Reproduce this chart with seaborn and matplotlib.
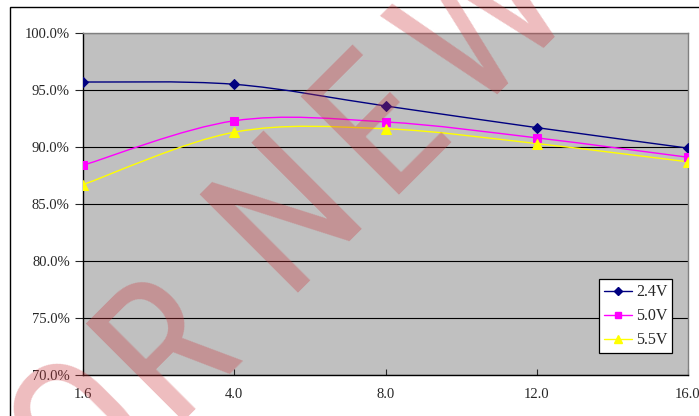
import numpy as np
import pandas as pd
import matplotlib
matplotlib.use("Agg")
import matplotlib.pyplot as plt
import seaborn as sns
from matplotlib.path import Path
from matplotlib.patches import PathPatch, Rectangle
from matplotlib.lines import Line2D

# --------------------------------------------------
# Data
# --------------------------------------------------

x_labels = ["1.6", "4.0", "8.0", "12.0", "16.0"]
eff_24 = [95.7, 95.5, 93.6, 91.7, 89.9]
eff_50 = [88.4, 92.3, 92.2, 90.8, 89.1]
eff_55 = [86.7, 91.3, 91.6, 90.3, 88.7]

series = ["2.4V", "5.0V", "5.5V"]
values = [eff_24, eff_50, eff_55]
colors = ["#000080", "#FF00FF", "#FFFF00"]
markers = ["D", "s", "^"]
msizes = [5, 6, 7]

pos = np.arange(len(x_labels))

# --------------------------------------------------
# Figure
# --------------------------------------------------

W, H = 699, 416

sns.set_style("white")
plt.rcParams["font.family"] = ["Liberation Serif", "DejaVu Serif"]

fig = plt.figure(figsize=(W / 100, H / 100), dpi=100)
ax = fig.add_axes([83 / W, 1 - 375 / H, 605 / W, 342 / H])
ax.set_facecolor("#C0C0C0")

# chart area border
fig.patches.append(Rectangle((10 / W, -0.2), 1.2, 1.2 - 7 / H,
                             transform=fig.transFigure, fill=False,
                             edgecolor="black", lw=1.0, zorder=0))


def smooth_path(xs, ys):
    # Excel-like smoothed line (cubic bezier through the points)
    pts = np.column_stack([xs, ys]).astype(float)
    n = len(pts)
    verts = [pts[0]]
    codes = [Path.MOVETO]
    for i in range(n - 1):
        p0 = pts[i - 1] if i > 0 else pts[i]
        p1 = pts[i]
        p2 = pts[i + 1]
        p3 = pts[i + 2] if i + 2 < n else pts[i + 1]
        c1 = p1 + (p2 - p0) / 6
        c2 = p2 - (p3 - p1) / 6
        verts += [c1, c2, p2]
        codes += [Path.CURVE4] * 3
    return Path(verts, codes)


for name, vals, col, mk, ms in zip(series, values, colors, markers, msizes):
    ax.add_patch(PathPatch(smooth_path(pos, vals), facecolor="none",
                           edgecolor=col, lw=1.0, zorder=3))
    sns.lineplot(x=pos, y=vals, ax=ax, color=col, marker=mk, markersize=ms,
                 markeredgecolor=col, linestyle="none", zorder=4, legend=False)

ax.set_xlim(0, 4)
ax.set_ylim(70, 100)
ax.set_yticks(np.arange(70, 101, 5))
ax.set_yticklabels([f"{v:.1f}%" for v in np.arange(70, 101, 5)])
ax.set_xticks(pos)
ax.set_xticklabels(x_labels)
ax.grid(axis="y", color="black", lw=0.8)
ax.set_axisbelow(True)
ax.set_xlabel("")
ax.set_ylabel("")

ax.tick_params(axis="y", direction="out", length=5.5, width=0.8, pad=4,
               labelsize=10.5, left=True)
ax.tick_params(axis="x", direction="in", length=4, width=0.8, pad=9,
               labelsize=10.5, bottom=True)

for side in ["left", "bottom"]:
    ax.spines[side].set_color("black")
    ax.spines[side].set_linewidth(1.0)
for side in ["top", "right"]:
    ax.spines[side].set_color("#808080")
    ax.spines[side].set_linewidth(1.0)

handles = [Line2D([], [], color=c, marker=m, markersize=s - 1,
                  markeredgecolor=c, lw=1.0)
           for c, m, s in zip(colors, markers, msizes)]
leg = ax.legend(handles, series, loc="lower right",
                bbox_to_anchor=(0.9736, 0.0643), borderaxespad=0,
                fontsize=11.5, frameon=True, fancybox=False,
                edgecolor="black", framealpha=1, handlelength=1.75,
                handletextpad=0.25, labelspacing=0.5, borderpad=0.3)
leg.get_frame().set_linewidth(0.9)

# --------------------------------------------------
# Watermark (cropped "FOR NEW", letters placed one by one)
# --------------------------------------------------

wm_letters = ["O", "R", "N", "E", "W"]
wm_pix = [(124, 468), (206, 384), (326, 250), (418, 161), (524, 62)]

for ch, (px, py) in zip(wm_letters, wm_pix):
    fig.text(px / W, 1 - py / H, ch, fontsize=140, rotation=45,
             rotation_mode="anchor", ha="center", va="baseline",
             family=["Roboto Condensed", "Liberation Sans"],
             color="#CC363C", alpha=0.33, zorder=10)

fig.savefig("out.png", dpi=100)
plt.close(fig)
